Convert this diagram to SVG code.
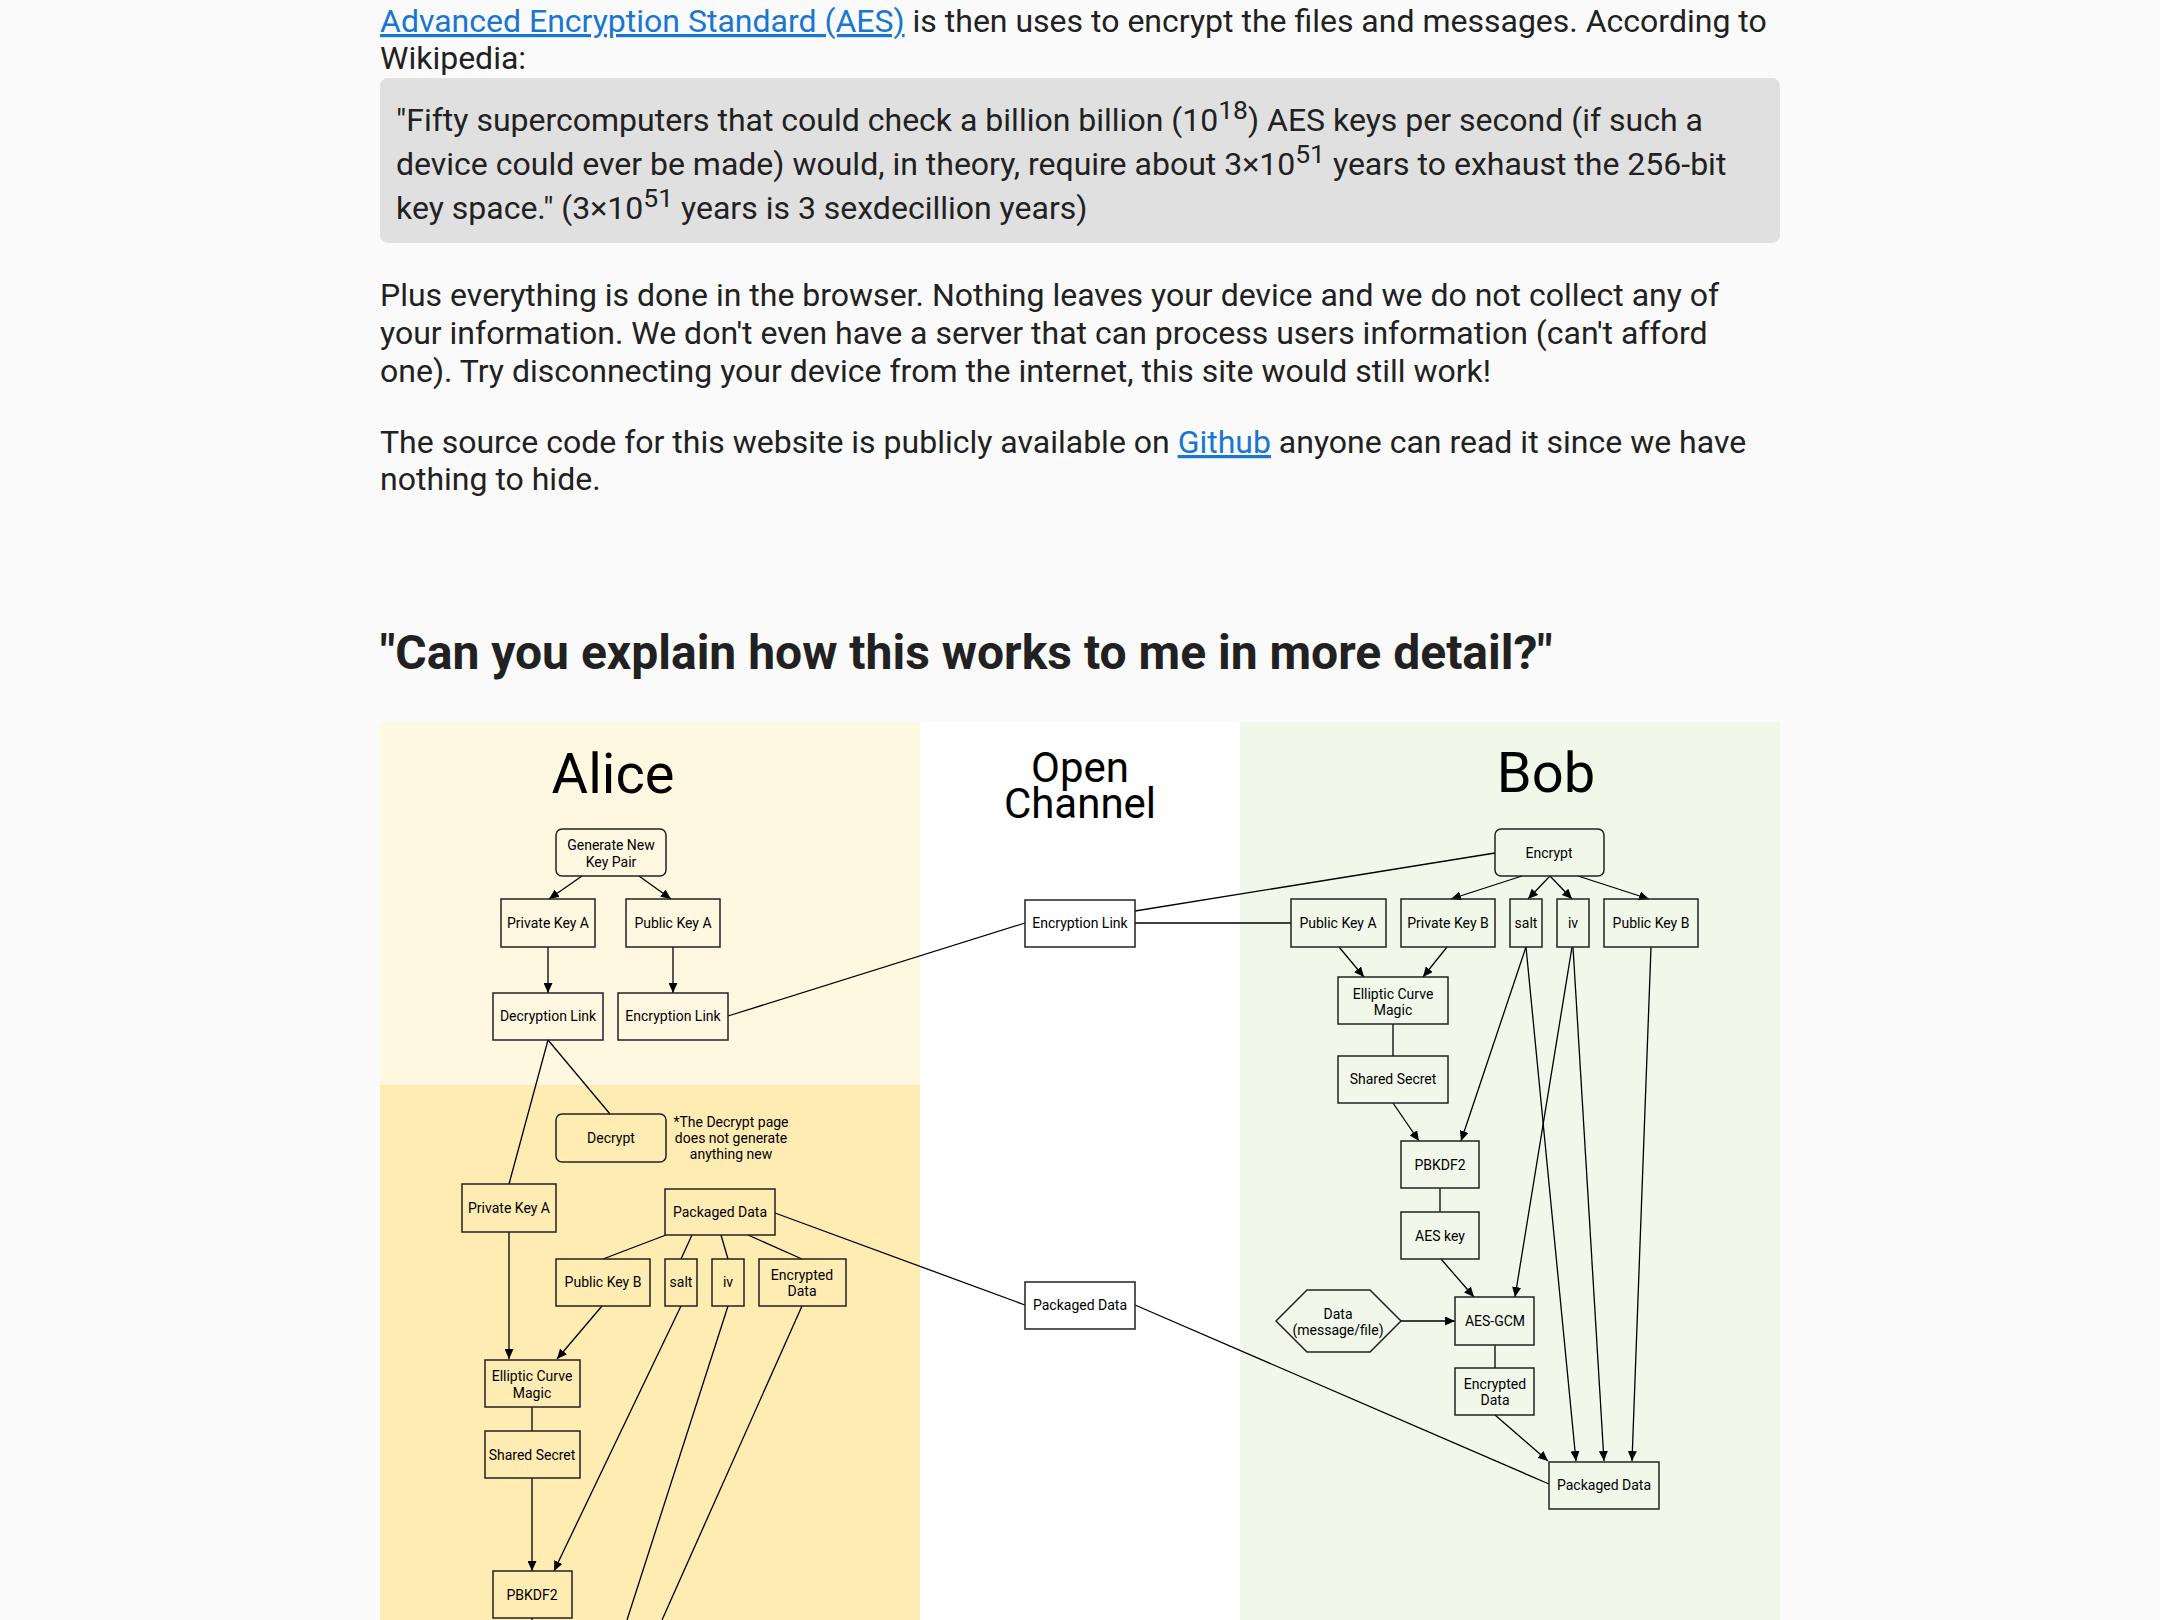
<svg xmlns="http://www.w3.org/2000/svg" width="2160" height="1620" viewBox="0 0 2160 1620">
<defs>
<style>
.body{font-family:Roboto,"Liberation Sans",sans-serif;font-size:32px;fill:#212121}
.link{fill:#1976d2;text-decoration:underline}
.h4{font-family:Roboto,"Liberation Sans",sans-serif;font-size:48px;font-weight:700;fill:#212121}
.sup{font-size:26.5px}
.box{fill:none;stroke:#222;stroke-width:1.5}
.lbl{font-family:Roboto,"Liberation Sans",sans-serif;font-size:14px;fill:#000;text-anchor:middle}
.title{font-family:Roboto,"Liberation Sans",sans-serif;font-size:56px;fill:#000;text-anchor:middle}
.oc{font-family:Roboto,"Liberation Sans",sans-serif;font-size:42px;fill:#000;text-anchor:middle}
.conn line{stroke:#000;stroke-width:1.3;fill:none}
.arr{marker-end:url(#ah)}
</style>
<marker id="ah" markerUnits="userSpaceOnUse" markerWidth="10" markerHeight="9" refX="10" refY="4.5" orient="auto"><path d="M0,0 L10,4.5 L0,9 z" fill="#000"/></marker>
</defs>
<rect x="0" y="0" width="2160" height="1620" fill="#fafafa"/>

<g id="page-text">
<text class="body" x="380" y="32"><tspan class="link">Advanced Encryption Standard (AES)</tspan> is then uses to encrypt the files and messages. According to</text>
<text class="body" x="380" y="69">Wikipedia:</text>
<rect x="380" y="78" width="1400" height="165" rx="8" fill="#e0e0e0"/>
<text class="body" x="396" y="131">"Fifty supercomputers that could check a billion billion (10<tspan class="sup" dy="-12">18</tspan><tspan dy="12">) AES keys per second (if such a</tspan></text>
<text class="body" x="396" y="175">device could ever be made) would, in theory, require about 3×10<tspan class="sup" dy="-12">51</tspan><tspan dy="12"> years to exhaust the 256-bit</tspan></text>
<text class="body" x="396" y="219">key space." (3×10<tspan class="sup" dy="-12">51</tspan><tspan dy="12"> years is 3 sexdecillion years)</tspan></text>
<text class="body" x="380" y="306">Plus everything is done in the browser. Nothing leaves your device and we do not collect any of</text>
<text class="body" x="380" y="344">your information. We don't even have a server that can process users information (can't afford</text>
<text class="body" x="380" y="382">one). Try disconnecting your device from the internet, this site would still work!</text>
<text class="body" x="380" y="453">The source code for this website is publicly available on <tspan class="link">Github</tspan> anyone can read it since we have</text>
<text class="body" x="380" y="490">nothing to hide.</text>
<text class="h4" x="380" y="669">"Can you explain how this works to me in more detail?"</text>
</g>

<g id="panels">
<rect x="380" y="722" width="540" height="363" fill="#fff8e1"/>
<rect x="380" y="1085" width="540" height="535" fill="#ffecb3"/>
<rect x="920" y="722" width="320" height="898" fill="#ffffff"/>
<rect x="1240" y="722" width="540" height="898" fill="#f1f8e9"/>
<text class="title" x="613" y="793">Alice</text>
<text class="oc" x="1080" y="782">Open<tspan x="1080" dy="36">Channel</tspan></text>
<text class="title" x="1546" y="792">Bob</text>
</g>

<g class="conn" id="connectors">
<line class="arr" x1="582" y1="876" x2="549" y2="899"/>
<line class="arr" x1="639" y1="876" x2="671" y2="899"/>
<line class="arr" x1="548" y1="947" x2="548" y2="993"/>
<line class="arr" x1="673" y1="947" x2="673" y2="993"/>
<line x1="728" y1="1016" x2="1025" y2="923"/>
<line x1="548" y1="1040" x2="610" y2="1114"/>
<line x1="548" y1="1040" x2="509" y2="1184"/>
<line x1="666" y1="1235" x2="603" y2="1259"/>
<line x1="692" y1="1235" x2="681" y2="1259"/>
<line x1="721" y1="1235" x2="728" y2="1259"/>
<line x1="748" y1="1235" x2="802" y2="1259"/>
<line x1="775" y1="1213" x2="1025" y2="1305"/>
<line class="arr" x1="509" y1="1232" x2="509" y2="1359"/>
<line class="arr" x1="602" y1="1306" x2="557" y2="1359"/>
<line x1="532" y1="1407" x2="532" y2="1431"/>
<line class="arr" x1="532" y1="1478" x2="532" y2="1571"/>
<line class="arr" x1="681" y1="1306" x2="554" y2="1571"/>
<line x1="532" y1="1618" x2="532" y2="1620"/>
<line x1="728" y1="1306" x2="627" y2="1620"/>
<line x1="802" y1="1306" x2="662" y2="1620"/>
<line x1="1135" y1="911" x2="1495" y2="853"/>
<line x1="1135" y1="923" x2="1291" y2="923"/>
<line x1="1135" y1="1305" x2="1549" y2="1484"/>
<line class="arr" x1="1522" y1="876" x2="1451" y2="899"/>
<line class="arr" x1="1550" y1="876" x2="1528" y2="899"/>
<line class="arr" x1="1550" y1="876" x2="1572" y2="899"/>
<line class="arr" x1="1578" y1="876" x2="1649" y2="899"/>
<line class="arr" x1="1339" y1="947" x2="1364" y2="977"/>
<line class="arr" x1="1447" y1="947" x2="1423" y2="977"/>
<line x1="1393" y1="1024" x2="1393" y2="1056"/>
<line class="arr" x1="1393" y1="1103" x2="1419" y2="1141"/>
<line class="arr" x1="1526" y1="947" x2="1461" y2="1141"/>
<line x1="1440" y1="1188" x2="1440" y2="1212"/>
<line class="arr" x1="1441" y1="1259" x2="1474" y2="1297"/>
<line class="arr" x1="1572" y1="947" x2="1515" y2="1297"/>
<line class="arr" x1="1401" y1="1321" x2="1455" y2="1321"/>
<line x1="1495" y1="1345" x2="1495" y2="1368"/>
<line class="arr" x1="1495" y1="1415" x2="1548" y2="1461"/>
<line class="arr" x1="1526" y1="947" x2="1576" y2="1461"/>
<line class="arr" x1="1573" y1="947" x2="1604" y2="1461"/>
<line class="arr" x1="1651" y1="947" x2="1632" y2="1461"/>
</g>

<g id="a-generate"><rect class="box" x="556" y="829" width="110" height="47" rx="6"/><text class="lbl" x="611" y="850">Generate New</text><text class="lbl" x="611" y="867">Key Pair</text></g>
<g id="a-privkey"><rect class="box" x="501" y="899" width="94" height="48"/><text class="lbl" x="548" y="928">Private Key A</text></g>
<g id="a-pubkey"><rect class="box" x="626" y="899" width="94" height="48"/><text class="lbl" x="673" y="928">Public Key A</text></g>
<g id="a-declink"><rect class="box" x="493" y="993" width="110" height="47"/><text class="lbl" x="548" y="1021">Decryption Link</text></g>
<g id="a-enclink"><rect class="box" x="618" y="993" width="110" height="47"/><text class="lbl" x="673" y="1021">Encryption Link</text></g>
<g id="a-decrypt"><rect class="box" x="556" y="1114" width="110" height="48" rx="6"/><text class="lbl" x="611" y="1143">Decrypt</text></g>
<g id="a-note"><text class="lbl" x="731" y="1127">*The Decrypt page</text><text class="lbl" x="731" y="1143">does not generate</text><text class="lbl" x="731" y="1159">anything new</text></g>
<g id="a-privkey2"><rect class="box" x="462" y="1184" width="94" height="48"/><text class="lbl" x="509" y="1213">Private Key A</text></g>
<g id="a-packaged"><rect class="box" x="665" y="1189" width="110" height="46"/><text class="lbl" x="720" y="1217">Packaged Data</text></g>
<g id="a-pubkeyb"><rect class="box" x="556" y="1259" width="94" height="47"/><text class="lbl" x="603" y="1287">Public Key B</text></g>
<g id="a-salt"><rect class="box" x="665" y="1259" width="32" height="47"/><text class="lbl" x="681" y="1287">salt</text></g>
<g id="a-iv"><rect class="box" x="712" y="1259" width="32" height="47"/><text class="lbl" x="728" y="1287">iv</text></g>
<g id="a-encdata"><rect class="box" x="759" y="1259" width="87" height="47"/><text class="lbl" x="802" y="1280">Encrypted</text><text class="lbl" x="802" y="1296">Data</text></g>
<g id="a-ecm"><rect class="box" x="485" y="1360" width="95" height="47"/><text class="lbl" x="532" y="1381">Elliptic Curve</text><text class="lbl" x="532" y="1398">Magic</text></g>
<g id="a-shared"><rect class="box" x="485" y="1431" width="95" height="47"/><text class="lbl" x="532" y="1460">Shared Secret</text></g>
<g id="a-pbkdf2"><rect class="box" x="493" y="1571" width="79" height="47"/><text class="lbl" x="532" y="1600">PBKDF2</text></g>

<g id="oc-enclink"><rect class="box" x="1025" y="900" width="110" height="47"/><text class="lbl" x="1080" y="928">Encryption Link</text></g>
<g id="oc-packaged"><rect class="box" x="1025" y="1282" width="110" height="47"/><text class="lbl" x="1080" y="1310">Packaged Data</text></g>

<g id="b-encrypt"><rect class="box" x="1495" y="829" width="109" height="47" rx="6"/><text class="lbl" x="1549" y="858">Encrypt</text></g>
<g id="b-pubkeya"><rect class="box" x="1291" y="899" width="95" height="48"/><text class="lbl" x="1338" y="928">Public Key A</text></g>
<g id="b-privkeyb"><rect class="box" x="1401" y="899" width="94" height="48"/><text class="lbl" x="1448" y="928">Private Key B</text></g>
<g id="b-salt"><rect class="box" x="1510" y="899" width="32" height="48"/><text class="lbl" x="1526" y="928">salt</text></g>
<g id="b-iv"><rect class="box" x="1557" y="899" width="32" height="48"/><text class="lbl" x="1573" y="928">iv</text></g>
<g id="b-pubkeyb"><rect class="box" x="1604" y="899" width="94" height="48"/><text class="lbl" x="1651" y="928">Public Key B</text></g>
<g id="b-ecm"><rect class="box" x="1338" y="977" width="110" height="47"/><text class="lbl" x="1393" y="999">Elliptic Curve</text><text class="lbl" x="1393" y="1015">Magic</text></g>
<g id="b-shared"><rect class="box" x="1338" y="1056" width="110" height="47"/><text class="lbl" x="1393" y="1084">Shared Secret</text></g>
<g id="b-pbkdf2"><rect class="box" x="1401" y="1141" width="78" height="47"/><text class="lbl" x="1440" y="1170">PBKDF2</text></g>
<g id="b-aeskey"><rect class="box" x="1401" y="1212" width="78" height="47"/><text class="lbl" x="1440" y="1241">AES key</text></g>
<g id="b-data"><polygon class="box" points="1276,1321 1307,1290 1370,1290 1401,1321 1370,1352 1307,1352"/><text class="lbl" x="1338" y="1319">Data</text><text class="lbl" x="1338" y="1335">(message/file)</text></g>
<g id="b-aesgcm"><rect class="box" x="1455" y="1297" width="79" height="48"/><text class="lbl" x="1495" y="1326">AES-GCM</text></g>
<g id="b-encdata"><rect class="box" x="1455" y="1368" width="79" height="47"/><text class="lbl" x="1495" y="1389">Encrypted</text><text class="lbl" x="1495" y="1405">Data</text></g>
<g id="b-packaged"><rect class="box" x="1549" y="1462" width="110" height="47"/><text class="lbl" x="1604" y="1490">Packaged Data</text></g>
</svg>
